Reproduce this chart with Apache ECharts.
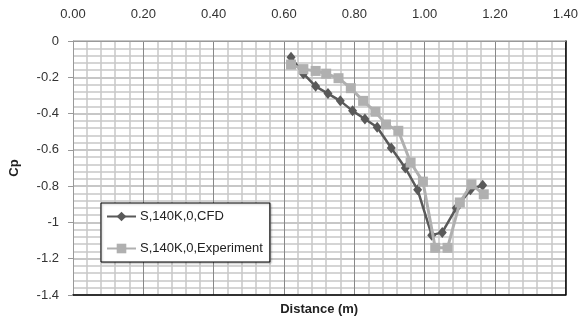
<!DOCTYPE html>
<html>
<head>
<meta charset="utf-8">
<script src="https://cdn.jsdelivr.net/npm/echarts@6/dist/echarts.min.js"></script>
<style>html,body{margin:0;padding:0;background:#fff}#c{width:581px;height:321px}</style>
</head>
<body>
<div id="c"></div>
<script>
var cfdX = [0.62, 0.655, 0.69, 0.725, 0.76, 0.795, 0.83, 0.865, 0.905, 0.945, 0.98, 1.02, 1.05, 1.09, 1.13, 1.165];
var cfdY = [-0.09, -0.18, -0.25, -0.29, -0.33, -0.385, -0.43, -0.475, -0.59, -0.70, -0.82, -1.07, -1.055, -0.92, -0.82, -0.795];
var expX = [0.62, 0.655, 0.69, 0.72, 0.755, 0.79, 0.825, 0.86, 0.89, 0.925, 0.96, 0.995, 1.03, 1.065, 1.10, 1.133, 1.168];
var expY = [-0.13, -0.155, -0.165, -0.18, -0.205, -0.26, -0.33, -0.39, -0.46, -0.495, -0.67, -0.775, -1.14, -1.14, -0.89, -0.79, -0.845];
var seriesNames = ['S,140K,0,CFD', 'S,140K,0,Experiment'];
var xTitle = 'Distance (m)';
var yTitle = 'Cp';

function pairs(xs, ys) { return xs.map(function (x, i) { return [x, ys[i]]; }); }

var font = 'Liberation Sans';
var chart = echarts.init(document.getElementById('c'), null, {renderer: 'canvas'});
chart.setOption({
  animation: false,
  backgroundColor: '#fff',
  grid: {left: 73, top: 41, right: 14, bottom: 23, containLabel: false},
  legend: {
    orient: 'vertical', left: 101, top: 203,
    padding: [7, 7, 7, 5],
    itemWidth: 29, itemHeight: 12, itemGap: 19,
    backgroundColor: '#fff', borderColor: '#000', borderWidth: 1,
    shadowColor: 'rgba(0,0,0,0.25)', shadowBlur: 2, shadowOffsetX: 1, shadowOffsetY: 1,
    textStyle: {fontFamily: font, fontSize: 13, color: '#222', padding: [0, 0, 0, -1]},
    data: seriesNames
  },
  xAxis: [{
    type: 'value', position: 'top', min: 0, max: 1.4, interval: 0.2,
    axisLine: {show: true, lineStyle: {color: '#999', width: 1}},
    axisTick: {show: false},
    axisLabel: {margin: 20, fontFamily: font, fontSize: 13, color: '#333',
      formatter: function (v) { return v.toFixed(2); }},
    splitLine: {show: true, lineStyle: {color: '#888', width: 1}},
    minorTick: {show: false, splitNumber: 5},
    minorSplitLine: {show: true, lineStyle: {color: '#c8c8c8', width: 1.5}}
  }, {
    type: 'value', position: 'bottom', min: 0, max: 1.4, interval: 0.2,
    axisLine: {show: true, onZero: false, lineStyle: {color: '#000', width: 1.5}},
    axisTick: {show: false}, axisLabel: {show: false}, splitLine: {show: false},
    name: xTitle, nameLocation: 'middle', nameGap: 8,
    nameTextStyle: {fontFamily: font, fontSize: 13, fontWeight: 'bold', color: '#222', verticalAlign: 'top'}
  }],
  yAxis: [{
    type: 'value', position: 'left', min: -1.4, max: 0, interval: 0.2,
    axisLine: {show: true, onZero: false, lineStyle: {color: '#999', width: 1}},
    axisTick: {show: true, length: 5, lineStyle: {color: '#999'}},
    axisLabel: {margin: 14, fontFamily: font, fontSize: 13, color: '#333'},
    splitLine: {show: true, lineStyle: {color: '#b4b4b4', width: 1.5}},
    minorTick: {show: false, splitNumber: 5},
    minorSplitLine: {show: true, lineStyle: {color: '#c8c8c8', width: 1.5}},
    name: yTitle, nameLocation: 'middle', nameGap: 52, nameRotate: 90,
    nameTextStyle: {fontFamily: font, fontSize: 13, fontWeight: 'bold', color: '#222'}
  }, {
    type: 'value', position: 'right', min: -1.4, max: 0, interval: 0.2,
    axisLine: {show: true, onZero: false, lineStyle: {color: '#000', width: 1.5}},
    axisTick: {show: false}, axisLabel: {show: false}, splitLine: {show: false}
  }],
  series: [{
    name: seriesNames[0], type: 'line', xAxisIndex: 0, yAxisIndex: 0,
    data: pairs(cfdX, cfdY),
    symbol: 'diamond', symbolSize: [9, 11], showAllSymbol: true,
    lineStyle: {color: '#595959', width: 2.5},
    itemStyle: {color: '#595959', borderWidth: 0},
    z: 2
  }, {
    name: seriesNames[1], type: 'line', xAxisIndex: 0, yAxisIndex: 0,
    data: pairs(expX, expY),
    symbol: 'rect', symbolSize: 10, showAllSymbol: true,
    lineStyle: {color: '#b0b0b0', width: 3},
    itemStyle: {color: '#b0b0b0', borderWidth: 0},
    z: 3
  }]
});
</script>
</body>
</html>
